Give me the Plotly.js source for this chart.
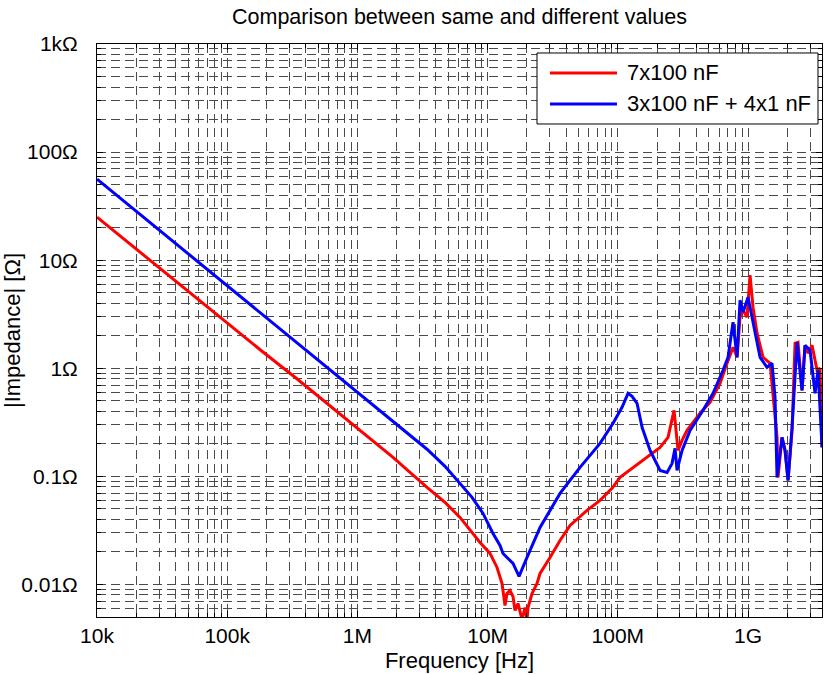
<!DOCTYPE html>
<html>
<head>
<meta charset="utf-8">
<script src="https://cdn.plot.ly/plotly-3.0.1.min.js"></script>
<style>
  html, body { margin: 0; padding: 0; background: #fff; }
  #chart { width: 824px; height: 675px; }
</style>
</head>
<body>
<div id="chart"></div>
<script>
// Impedance magnitude of two decoupling capacitor banks versus frequency.

// 7 x 100 nF bank
const freqSame = [1.0e4, 1.793e4, 3.213e4, 5.76e4, 1.032e5, 1.851e5, 3.317e5, 5.946e5, 1.047e6, 1.877e6,
  3.424e6, 4.708e6, 6.138e6, 7.324e6, 8.745e6, 1.043e7, 1.181e7, 1.290e7, 1.360e7, 1.409e7,
  1.486e7, 1.567e7, 1.623e7, 1.712e7, 1.838e7, 1.938e7, 2.007e7, 2.043e7, 2.193e7, 2.395e7,
  2.527e7, 3.015e7, 3.598e7, 4.295e7, 5.80e7, 7.30e7, 9.03e7, 1.040e8, 1.309e8, 1.676e8,
  2.110e8, 2.430e8, 2.702e8, 2.900e8, 3.113e8, 3.401e8, 4.279e8, 5.107e8, 6.094e8, 6.90e8,
  7.67e8, 8.23e8, 8.68e8, 9.16e8, 9.82e8, 1.036e9, 1.092e9, 1.173e9, 1.304e9, 1.476e9,
  1.556e9, 1.670e9, 1.700e9, 1.824e9, 1.924e9, 2.029e9, 2.178e9, 2.296e9, 2.421e9, 2.598e9,
  2.740e9, 2.889e9, 3.101e9, 3.388e9, 3.573e9, 3.702e9];
const zSame = [25.0, 14.07, 8.08, 4.54, 2.555, 1.437, 0.8254, 0.4642, 0.2666, 0.1499,
  0.0791, 0.0574, 0.04173, 0.03162, 0.02448, 0.01936, 0.01437, 0.01022, 0.00639, 0.00825,
  0.00880, 0.00774, 0.00574, 0.00667, 0.00474, 0.00612, 0.00474, 0.00612, 0.00825, 0.01022,
  0.01264, 0.01778, 0.02555, 0.03518, 0.04844, 0.05995, 0.07743, 0.09788, 0.1212, 0.1499,
  0.1856, 0.2297, 0.4085, 0.1740, 0.2154, 0.2666, 0.3831, 0.4844, 0.7262, 1.112,
  1.565, 1.264, 2.966, 3.444, 2.966, 7.262, 3.672, 2.110, 1.264, 1.112,
  0.5869, 0.2297, 0.0979, 0.2297, 0.1740, 0.0918, 0.2666, 1.704, 1.740, 0.6256,
  1.633, 1.377, 1.633, 0.9583, 1.0, 0.1856];

// 3 x 100 nF + 4 x 1 nF bank
const freqMixed = [1.0e4, 1.793e4, 3.213e4, 5.76e4, 1.032e5, 1.851e5, 3.317e5, 5.946e5, 1.047e6, 1.877e6,
  3.424e6, 4.708e6, 6.138e6, 7.59e6, 9.22e6, 1.100e7, 1.245e7, 1.313e7, 1.434e7, 1.567e7,
  1.743e7, 1.870e7, 2.007e7, 2.527e7, 3.598e7, 5.125e7, 7.30e7, 9.19e7, 1.077e8, 1.198e8,
  1.286e8, 1.405e8, 1.535e8, 1.768e8, 2.110e8, 2.388e8, 2.608e8, 2.750e8, 2.849e8, 3.113e8,
  3.586e8, 4.512e8, 5.386e8, 6.427e8, 7.02e8, 7.67e8, 8.23e8, 8.68e8, 9.16e8, 1.000e9,
  1.092e9, 1.237e9, 1.399e9, 1.529e9, 1.612e9, 1.670e9, 1.824e9, 1.924e9, 2.029e9, 2.178e9,
  2.378e9, 2.598e9, 2.740e9, 2.994e9, 3.270e9, 3.449e9, 3.702e9];
const zMixed = [56.2, 31.6, 17.78, 10.0, 5.62, 3.162, 1.778, 1.0, 0.5745, 0.3254,
  0.1783, 0.1238, 0.0861, 0.0639, 0.0454, 0.02966, 0.02297, 0.01936, 0.01740, 0.01565,
  0.01186, 0.01468, 0.01778, 0.0337, 0.0696, 0.1212, 0.2020, 0.3096, 0.4353, 0.5869,
  0.5503, 0.4741, 0.2842, 0.1740, 0.1136, 0.1089, 0.1319, 0.1817, 0.1136, 0.1740,
  0.2666, 0.4085, 0.5869, 0.9583, 1.264, 2.666, 1.264, 4.262, 3.300, 4.54,
  2.610, 1.264, 1.022, 1.112, 0.5388, 0.0979, 0.2297, 0.1740, 0.0918, 0.2842,
  1.740, 0.6256, 1.633, 1.468, 0.5869, 0.9583, 0.1856];

const seriesNames = ['7x100 nF', '3x100 nF + 4x1 nF'];
const seriesColors = ['#ff0000', '#0000ff'];

// Decade tick labels
const freqTickVals = [1e4, 1e5, 1e6, 1e7, 1e8, 1e9];
const freqTickText = ['10k', '100k', '1M', '10M', '100M', '1G'];
const zTickVals = [0.01, 0.1, 1, 10, 100, 1000];
const zTickText = ['0.01\u03A9', '0.1\u03A9', '1\u03A9', '10\u03A9', '100\u03A9', '1k\u03A9'];

// 2..9 subdivisions of every decade in [lo, hi)
function decadeSubdivisions(lo, hi) {
  const out = [];
  for (let d = lo; d < hi; d++) {
    for (let k = 2; k <= 9; k++) out.push(k * Math.pow(10, d));
  }
  return out;
}

const gridColor = '#4a4a4a';
const gridDash = '9px,5px';

function logAxis(range, tickVals, tickText, minorVals, title) {
  return {
    type: 'log',
    range: range,
    autorange: false,
    tickmode: 'array',
    tickvals: tickVals,
    ticktext: tickText,
    ticks: 'inside',
    ticklen: 6,
    tickwidth: 1,
    tickcolor: '#000',
    showgrid: true,
    gridcolor: gridColor,
    gridwidth: 1,
    griddash: gridDash,
    zeroline: false,
    showline: true,
    linecolor: '#000',
    linewidth: 1,
    mirror: 'ticks',
    tickfont: { size: 21 },
    minor: {
      tickmode: 'array',
      tickvals: minorVals,
      ticks: 'inside',
      ticklen: 4,
      tickcolor: '#000',
      showgrid: true,
      gridcolor: gridColor,
      gridwidth: 1,
      griddash: gridDash
    },
    title: { text: title, font: { size: 22 } }
  };
}

const traces = [
  { x: freqSame, y: zSame, name: seriesNames[0] },
  { x: freqMixed, y: zMixed, name: seriesNames[1] }
].map((t, i) => Object.assign(t, {
  type: 'scatter',
  mode: 'lines',
  line: { color: seriesColors[i], width: 3 },
  hoverinfo: 'skip'
}));

const xAxis = logAxis([4, 9.568], freqTickVals, freqTickText, decadeSubdivisions(4, 10), 'Frequency [Hz]');
xAxis.title.standoff = 6;
const yAxis = logAxis([Math.log10(0.005), 3], zTickVals, zTickText, decadeSubdivisions(-3, 3), '|Impedance| [\u03A9]');
yAxis.ticklabelstandoff = 14;
yAxis.title.standoff = 0;

// Framed key in the upper-right corner of the plot
const key = { x0: 0.6069, x1: 0.9945, y0: 0.8604, y1: 0.9843, lineX0: 0.6248, lineX1: 0.7172, textX: 0.7283, rows: [0.9494, 0.8953] };

const shapes = [{
  type: 'rect', xref: 'paper', yref: 'paper',
  x0: key.x0, x1: key.x1, y0: key.y0, y1: key.y1,
  line: { color: '#000', width: 1 }, fillcolor: '#fff', layer: 'above'
}];
const annotations = [];
seriesNames.forEach((name, i) => {
  shapes.push({
    type: 'line', xref: 'paper', yref: 'paper',
    x0: key.lineX0, x1: key.lineX1, y0: key.rows[i], y1: key.rows[i],
    line: { color: seriesColors[i], width: 3 }, layer: 'above'
  });
  annotations.push({
    xref: 'paper', yref: 'paper', x: key.textX, y: key.rows[i],
    xanchor: 'left', yanchor: 'middle', showarrow: false,
    text: name, font: { size: 22, color: '#000' }
  });
});

const layout = {
  width: 824,
  height: 675,
  margin: { l: 97, r: 2, t: 44, b: 58, pad: 0 },
  paper_bgcolor: '#ffffff',
  plot_bgcolor: '#ffffff',
  font: { family: '"Liberation Sans", Arial, sans-serif', size: 21, color: '#000' },
  title: {
    text: 'Comparison between same and different values',
    font: { size: 21.5 },
    x: 0.5, xref: 'paper', xanchor: 'center',
    y: 0.975, yref: 'container', yanchor: 'middle'
  },
  showlegend: false,
  xaxis: xAxis,
  yaxis: yAxis,
  shapes: shapes,
  annotations: annotations
};

Plotly.newPlot('chart', traces, layout, { displayModeBar: false, staticPlot: true });
</script>
</body>
</html>
